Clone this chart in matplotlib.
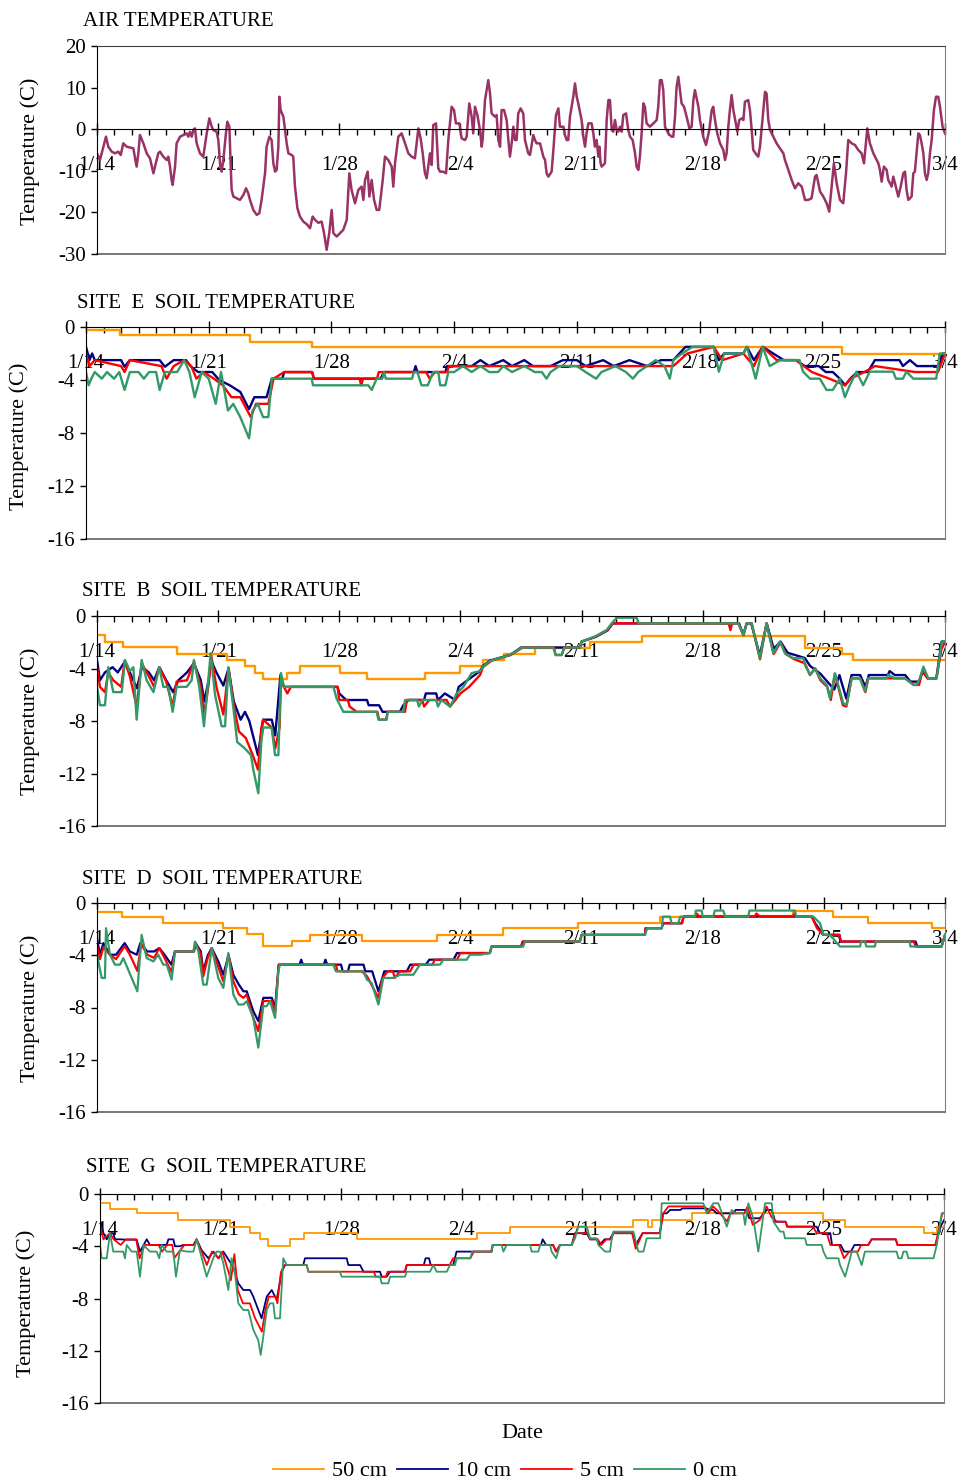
import matplotlib
matplotlib.use('Agg')
import matplotlib.pyplot as plt
from matplotlib.ticker import FixedLocator, MultipleLocator

plt.rcParams['font.family'] = ['Liberation Serif', 'DejaVu Serif']
plt.rcParams['axes.unicode_minus'] = False

# x in days since 1/14
DATE_LABELS = ['1/14', '1/21', '1/28', '2/4', '2/11', '2/18', '2/25', '3/4']
DEPTHS = ['50 cm', '10 cm', '5 cm', '0 cm']

# ---- air temperature (day, C) ----
air = [(0, -5.8), (0.17, -7.4), (0.37, -4.2), (0.52, -1.8), (0.65, -4.2), (0.85, -5.4), (1.04, -5.8),
       (1.23, -5.4), (1.37, -6.2), (1.52, -3.4), (1.71, -4.2), (2.10, -4.6), (2.20, -7.0), (2.29, -9.0),
       (2.39, -5.8), (2.48, -1.4), (2.68, -3.4), (2.87, -5.8), (3.06, -7.0), (3.26, -10.6), (3.35, -9.0),
       (3.54, -5.8), (3.64, -5.4), (3.83, -6.6), (4.03, -7.4), (4.12, -6.6), (4.22, -9.0), (4.31, -12.2),
       (4.37, -13.4), (4.51, -9.0), (4.60, -3.4), (4.80, -1.8), (4.99, -1.4), (5.18, -1.0), (5.28, -1.8),
       (5.37, -0.6), (5.47, -1.8), (5.57, -0.2), (5.66, 0.2), (5.76, -3.4), (5.95, -5.8), (6.14, -6.6),
       (6.34, -1.0), (6.49, 2.6), (6.63, 0.6), (6.72, -0.2), (6.91, -0.6), (7.01, -2.6), (7.11, -8.2),
       (7.20, -10.2), (7.30, -7.4), (7.45, -1.0), (7.53, 1.8), (7.65, 0.6), (7.72, -8.2), (7.78, -14.6),
       (7.88, -16.2), (8.07, -16.6), (8.26, -17.0), (8.46, -15.8), (8.61, -14.2), (8.74, -15.4),
       (8.84, -17.0), (9.03, -19.4), (9.23, -20.6), (9.38, -20.2), (9.51, -17.0), (9.61, -13.8),
       (9.71, -10.6), (9.80, -4.2), (9.96, -1.8), (10.09, -2.6), (10.19, -8.2), (10.29, -10.2),
       (10.38, -9.8), (10.48, -4.2), (10.54, 7.8), (10.61, 4.6), (10.77, 3.0), (10.96, -3.4),
       (11.06, -5.8), (11.25, -6.2), (11.34, -6.6), (11.44, -13.8), (11.58, -19.0), (11.73, -21.0),
       (11.92, -22.2), (12.11, -22.8), (12.31, -23.8), (12.46, -21.0), (12.60, -21.8), (12.79, -22.5),
       (12.98, -22.2), (13.12, -25.0), (13.27, -29.0), (13.42, -25.0), (13.56, -19.4), (13.66, -25.0),
       (13.85, -25.8), (14.04, -25.0), (14.23, -24.2), (14.43, -21.8), (14.58, -10.6), (14.71, -14.6),
       (14.91, -17.8), (15.10, -14.6), (15.29, -13.8), (15.39, -17.0), (15.49, -12.2), (15.64, -10.2),
       (15.74, -16.2), (15.87, -12.2), (16.01, -17.0), (16.16, -19.4), (16.31, -19.4), (16.51, -12.2),
       (16.64, -6.6), (16.83, -7.4), (17.03, -9.0), (17.12, -13.8), (17.22, -8.2), (17.41, -1.8),
       (17.60, -1.0), (17.80, -3.4), (17.99, -5.8), (18.18, -6.6), (18.37, -7.0), (18.57, 0.2),
       (18.70, -2.2), (18.82, -5.8), (18.95, -10.6), (19.05, -11.8), (19.14, -9.0), (19.24, -5.8),
       (19.34, -8.6), (19.43, 1.0), (19.59, 1.4), (19.72, -9.4), (19.82, -10.2), (20.01, -10.2),
       (20.17, -10.6), (20.30, -2.6), (20.49, 5.4), (20.63, 4.6), (20.74, 1.4), (20.94, 1.4),
       (21.07, -2.2), (21.26, -2.6), (21.36, -1.8), (21.51, 6.2), (21.65, 3.0), (21.74, -1.0),
       (21.84, 5.4), (21.98, 3.4), (22.13, -0.2), (22.23, -4.2), (22.28, -2.6), (22.42, 7.0),
       (22.61, 11.8), (22.71, 8.6), (22.80, 3.8), (23.00, 3.0), (23.09, 3.4), (23.19, -2.6),
       (23.29, -4.2), (23.38, 4.6), (23.52, 4.6), (23.67, 2.2), (23.77, -2.6), (23.86, -6.6),
       (23.96, -3.4), (24.06, 0.6), (24.15, -2.6), (24.25, -2.6), (24.34, 3.8), (24.48, 5.0),
       (24.63, 3.8), (24.73, -2.6), (24.92, -5.8), (25.02, -6.2), (25.21, -1.4), (25.31, -2.6),
       (25.40, -3.4), (25.60, -3.4), (25.79, -6.6), (25.89, -7.4), (25.98, -10.6), (26.08, -11.4),
       (26.27, -10.2), (26.37, -5.0), (26.52, 3.4), (26.66, 5.0), (26.75, 0.6), (26.95, 0.6),
       (27.04, -1.4), (27.14, -2.6), (27.23, -2.6), (27.33, 3.0), (27.52, 7.8), (27.62, 11.0),
       (27.72, 7.8), (27.81, 6.2), (28.00, 2.2), (28.10, -1.8), (28.20, -4.2), (28.29, -1.0),
       (28.39, 1.4), (28.58, 1.4), (28.68, -1.0), (28.77, -4.2), (28.87, -2.6), (28.97, -6.6),
       (29.03, -4.2), (29.10, -8.2), (29.16, -9.0), (29.35, -8.2), (29.45, 2.2), (29.55, 7.0),
       (29.64, 7.0), (29.74, -0.2), (29.83, -0.6), (29.93, 2.2), (30.03, -0.2), (30.12, -0.6),
       (30.22, 0.6), (30.32, -0.6), (30.41, 3.4), (30.57, 3.8), (30.70, -0.2), (30.80, -1.8),
       (30.95, -2.6), (31.09, -5.8), (31.18, -9.0), (31.28, -9.8), (31.37, -6.6), (31.47, -1.0),
       (31.57, 6.2), (31.66, 5.4), (31.76, 1.4), (31.95, 0.6), (32.15, 1.4), (32.34, 2.2),
       (32.43, 5.4), (32.53, 11.8), (32.63, 11.8), (32.72, 9.4), (32.82, 0.6), (33.01, -1.0),
       (33.20, -1.8), (33.30, -1.8), (33.40, 3.0), (33.49, 10.2), (33.59, 12.6), (33.78, 6.2),
       (33.92, 5.4), (34.07, 3.0), (34.23, 0.2), (34.36, 0.6), (34.46, 7.0), (34.55, 9.4),
       (34.75, 5.4), (34.84, 2.2), (35.03, -1.8), (35.19, -3.8), (35.38, -0.2), (35.52, 4.6),
       (35.61, 5.4), (35.71, 2.2), (35.84, -1.0), (36.00, -3.4), (36.19, -5.0), (36.29, -7.4),
       (36.38, -5.8), (36.48, 0.6), (36.57, 4.6), (36.67, 8.2), (36.77, 4.6), (36.86, 2.6),
       (37.00, -0.6), (37.11, 2.2), (37.25, 2.6), (37.35, 2.2), (37.44, 6.6), (37.63, 7.0),
       (37.73, 4.6), (37.83, -0.2), (37.92, -5.0), (38.12, -6.2), (38.21, -6.6), (38.31, -4.2),
       (38.50, 4.6), (38.60, 9.0), (38.69, 8.6), (38.79, 2.2), (38.89, -0.2), (39.08, -1.8),
       (39.27, -3.4), (39.46, -4.6), (39.66, -5.8), (39.75, -7.4), (39.95, -9.8), (40.14, -12.2),
       (40.33, -14.2), (40.52, -13.0), (40.72, -13.8), (40.91, -17.0), (41.10, -17.0), (41.29, -16.6),
       (41.49, -11.4), (41.58, -11.0), (41.78, -15.0), (41.97, -16.2), (42.16, -17.8), (42.31, -19.8),
       (42.45, -13.8), (42.58, -8.2), (42.74, -13.0), (42.93, -17.0), (43.12, -17.8), (43.28, -10.6),
       (43.41, -2.6), (43.61, -3.4), (43.80, -3.8), (43.99, -5.0), (44.18, -5.8), (44.32, -8.2),
       (44.51, 0.2), (44.66, -3.4), (44.86, -5.8), (45.15, -8.2), (45.24, -9.8), (45.34, -12.6),
       (45.47, -9.0), (45.63, -9.8), (45.72, -12.2), (45.92, -13.8), (46.01, -11.4), (46.11, -13.0),
       (46.30, -16.2), (46.44, -13.8), (46.59, -10.6), (46.69, -10.2), (46.78, -14.6), (46.88, -17.0),
       (47.07, -16.2), (47.17, -10.6), (47.26, -10.2), (47.46, -1.0), (47.55, -1.4), (47.65, -3.4),
       (47.75, -5.8), (47.84, -10.6), (47.94, -12.2), (48.03, -10.6), (48.13, -5.8), (48.23, -2.6),
       (48.36, 4.6), (48.48, 7.8), (48.61, 7.8), (48.71, 5.4), (48.86, 0.6), (49.00, -1.0)]

# ---- site E ----
e_50_day = [0, 1.94, 9.35, 12.87, 43.1, 49]
e_50_val = [-0.2, -0.6, -1.1, -1.5, -2.0, -2.0]
e_10 = [(0, -1.5), (0.2, -2.5), (0.35, -2.0), (0.5, -2.5), (2.0, -2.5), (2.2, -3.0), (2.5, -2.5),
        (4.2, -2.5), (4.5, -3.0), (5.0, -2.5), (5.7, -2.5), (6.0, -3.0), (6.4, -3.4), (7.2, -3.4),
        (7.6, -4.0), (8.2, -4.4), (8.8, -4.9), (9.3, -6.2), (9.6, -5.3), (10.3, -5.3), (10.6, -3.9),
        (11.2, -3.9), (11.3, -3.4), (12.9, -3.4), (13.0, -3.9), (16.8, -3.9), (17.0, -3.4), (18.7, -3.4),
        (18.8, -2.95), (18.9, -3.4), (20.5, -3.4), (20.6, -2.95), (22.0, -2.95), (22.5, -2.5),
        (23.0, -2.95), (23.8, -2.5), (24.3, -2.95), (25.0, -2.5), (25.5, -2.95), (26.5, -2.95),
        (27.2, -2.5), (28.0, -2.5), (28.5, -2.95), (29.5, -2.5), (30.1, -2.95), (31.0, -2.5),
        (32.0, -2.95), (32.8, -2.5), (33.5, -2.5), (34.2, -1.5), (35.8, -1.5), (36.1, -2.5),
        (36.4, -2.0), (37.5, -2.0), (37.7, -1.5), (38.1, -2.5), (38.6, -1.5), (39.2, -2.0),
        (39.8, -2.5), (40.5, -2.5), (41.0, -2.95), (41.8, -2.95), (42.2, -3.4), (42.6, -3.4),
        (43.0, -3.9), (43.3, -4.4), (43.6, -3.9), (44.0, -3.4), (44.6, -3.4), (45.0, -2.5),
        (46.4, -2.5), (46.6, -2.95), (47.0, -2.5), (47.4, -2.95), (48.6, -2.95), (48.9, -2.0), (49, -2.0)]
e_5 = [(0, -2.0), (0.2, -2.95), (0.5, -2.5), (2.0, -2.95), (2.2, -3.4), (2.5, -2.5), (4.3, -2.95),
       (4.6, -3.9), (5.0, -2.95), (5.6, -2.5), (6.0, -2.95), (6.3, -3.9), (6.7, -3.4), (7.3, -3.9),
       (7.8, -4.4), (8.3, -5.3), (8.8, -5.3), (9.4, -6.8), (9.7, -5.8), (10.4, -5.8), (10.7, -3.9),
       (11.3, -3.4), (12.9, -3.4), (13.0, -3.9), (15.6, -3.9), (15.7, -4.4), (15.8, -3.9), (16.6, -3.9),
       (16.7, -3.4), (19.4, -3.4), (19.6, -3.9), (19.9, -3.4), (20.6, -3.4), (20.7, -2.95), (24, -2.95),
       (26, -2.95), (30, -2.95), (33.5, -2.95), (34.3, -2.0), (35.8, -1.5), (36.3, -2.5), (37.5, -2.0),
       (38.1, -2.95), (38.6, -1.5), (39.4, -2.5), (40.5, -2.5), (41.4, -3.4), (42.4, -3.9), (43.3, -4.4),
       (43.6, -3.9), (44.4, -3.4), (45, -2.95), (47.3, -3.4), (48.6, -3.4), (49, -2.0)]
e_0 = [(0, -3.4), (0.15, -4.4), (0.3, -3.9), (0.5, -3.4), (0.9, -3.9), (1.2, -3.4), (1.6, -3.9),
       (1.9, -3.4), (2.2, -4.75), (2.5, -3.4), (3.0, -3.4), (3.3, -3.9), (3.6, -3.4), (4.0, -3.4),
       (4.2, -4.75), (4.5, -3.4), (5.2, -3.4), (5.6, -2.5), (5.9, -3.4), (6.2, -5.3), (6.6, -3.4),
       (7.0, -3.9), (7.4, -5.8), (7.7, -3.4), (8.1, -6.3), (8.4, -5.8), (8.8, -6.8), (9.3, -8.4),
       (9.5, -6.3), (9.8, -5.8), (10.1, -6.8), (10.4, -6.8), (10.6, -3.9), (12.87, -3.9), (12.95, -4.4),
       (16.1, -4.4), (16.3, -4.75), (16.58, -3.9), (16.9, -3.9), (17.0, -3.4), (17.1, -3.9), (18.6, -3.9),
       (18.7, -3.4), (18.9, -3.4), (19.14, -4.4), (19.5, -4.4), (19.8, -3.4), (20.1, -3.4), (20.2, -4.4),
       (20.5, -4.4), (20.67, -3.4), (21.0, -3.4), (21.5, -2.95), (22.0, -3.4), (22.5, -2.95), (23.0, -3.4),
       (23.5, -3.4), (23.8, -2.95), (24.3, -3.4), (25.0, -2.95), (25.6, -3.4), (26.0, -3.4), (26.27, -3.9),
       (26.5, -3.4), (27.0, -2.95), (28.0, -2.95), (28.5, -3.4), (29.1, -3.9), (29.4, -3.4), (30.2, -2.95),
       (30.8, -3.4), (31.2, -3.9), (31.5, -3.4), (32.0, -2.95), (32.5, -2.5), (33.0, -2.95), (33.3, -3.9),
       (33.5, -2.5), (34.0, -2.0), (34.6, -1.5), (35.8, -1.5), (36.1, -3.37), (36.4, -2.0), (37.5, -2.0),
       (37.7, -1.5), (38.2, -3.9), (38.6, -1.5), (39.0, -2.95), (39.6, -2.5), (40.7, -2.5), (40.9, -3.37),
       (41.3, -3.9), (41.86, -3.9), (42.24, -4.75), (42.6, -4.75), (43.0, -3.9), (43.29, -5.3),
       (43.57, -4.4), (43.95, -3.37), (44.33, -4.4), (44.71, -3.37), (46.04, -3.37), (46.2, -3.9),
       (46.6, -3.9), (46.8, -3.37), (47.19, -3.9), (48.5, -3.9), (48.7, -2.0), (49, -2.0)]

# ---- site B ----
b_50_day = [0, 0.46, 1.52, 4.6, 7.49, 8.55, 9.13, 9.61, 10.96, 11.73, 14.04, 15.58, 18.95, 21.0, 22.3,
            23.5, 25.3, 28.5, 31.47, 40.91, 43.03, 43.7, 49]
b_50_val = [-1.45, -1.95, -2.33, -2.9, -3.35, -3.8, -4.35, -4.82, -4.35, -3.8, -4.35, -4.82, -4.35,
            -3.8, -3.35, -2.9, -2.4, -1.95, -1.5, -2.4, -2.9, -3.35, -3.35]
b_10 = [(0, -3.35), (0.17, -4.9), (0.46, -4.3), (0.9, -3.9), (1.2, -4.3), (1.6, -3.5), (1.9, -4.3),
        (2.3, -5.5), (2.6, -3.9), (3.0, -4.3), (3.3, -4.9), (3.6, -3.9), (4.0, -4.9), (4.4, -5.8),
        (4.7, -4.9), (5.2, -4.3), (5.6, -3.6), (6.0, -4.9), (6.2, -6.5), (6.45, -4.9), (6.6, -3.4),
        (6.9, -4.3), (7.3, -5.3), (7.6, -4.0), (7.9, -6.5), (8.3, -7.9), (8.55, -7.3), (8.8, -8.0),
        (9.3, -10.6), (9.6, -7.9), (10.1, -7.9), (10.3, -9.1), (10.6, -4.5), (10.8, -5.4), (13.9, -5.4),
        (14.0, -5.9), (14.4, -6.4), (15.6, -6.4), (15.7, -6.8), (16.3, -6.8), (16.5, -7.3), (17.5, -7.3),
        (17.7, -6.8), (18.0, -6.4), (18.9, -6.4), (19.0, -5.9), (19.6, -5.9), (19.7, -6.4), (20.1, -5.9),
        (20.7, -6.4), (20.9, -5.4), (21.4, -4.9), (22.13, -4.2), (22.3, -3.8), (22.7, -3.4), (23.9, -2.95),
        (24.5, -2.4), (27.9, -2.4), (28.0, -1.95), (28.8, -1.6), (29.5, -1.1), (29.8, -0.56), (37.1, -0.56),
        (37.35, -1.45), (37.54, -0.56), (37.8, -0.56), (38.3, -3.0), (38.7, -0.56), (39.1, -2.5),
        (39.5, -1.95), (39.9, -2.8), (40.9, -3.2), (41.2, -3.8), (41.8, -4.4), (42.2, -5.0), (42.6, -5.6),
        (42.9, -4.5), (43.3, -6.3), (43.6, -4.5), (44.1, -4.5), (44.4, -5.4), (44.6, -4.5), (45.7, -4.5),
        (45.8, -4.2), (46.1, -4.5), (46.7, -4.5), (47.0, -5.0), (47.5, -5.0), (47.7, -4.2), (48.0, -4.75),
        (48.5, -4.75), (48.8, -1.95), (49, -1.95)]
b_5 = [(0, -3.9), (0.17, -5.4), (0.46, -5.8), (0.65, -4.3), (0.94, -4.9), (1.4, -5.4), (1.6, -3.4),
       (1.9, -4.6), (2.29, -6.9), (2.58, -3.6), (3.0, -4.6), (3.3, -5.4), (3.6, -3.9), (4.0, -5.0),
       (4.37, -6.9), (4.6, -5.0), (5.2, -4.9), (5.6, -3.5), (6.0, -5.4), (6.2, -7.5), (6.45, -5.2),
       (6.6, -3.0), (6.9, -5.4), (7.3, -7.5), (7.6, -4.0), (7.9, -6.8), (8.2, -8.8), (8.6, -9.3),
       (9.0, -10.6), (9.3, -11.7), (9.5, -8.5), (9.6, -7.9), (10.1, -8.5), (10.3, -10.1), (10.55, -8.5),
       (10.63, -4.9), (10.8, -5.4), (11.0, -5.9), (11.2, -5.4), (13.9, -5.4), (14.0, -6.4), (14.5, -6.4),
       (14.6, -6.9), (15.0, -7.3), (16.2, -7.3), (16.3, -7.9), (16.7, -7.9), (16.8, -7.3), (17.8, -7.3),
       (17.9, -6.4), (18.8, -6.4), (18.9, -6.9), (19.2, -6.4), (20.2, -6.4), (20.4, -6.9), (20.7, -6.4),
       (21.0, -5.9), (21.5, -5.4), (22.13, -4.5), (22.3, -3.9), (22.8, -3.4), (23.9, -2.97), (24.6, -2.4),
       (26.4, -2.4), (26.5, -2.97), (26.85, -2.97), (27.0, -2.4), (27.9, -2.4), (28.0, -1.95), (28.8, -1.57),
       (29.5, -1.07), (29.8, -0.56), (36.5, -0.56), (36.6, -1.07), (36.7, -0.56), (37.06, -0.56),
       (37.35, -1.45), (37.54, -0.56), (37.83, -0.56), (38.31, -3.3), (38.69, -0.56), (39.1, -2.9),
       (39.5, -2.0), (39.8, -2.9), (40.3, -3.3), (40.9, -3.6), (41.2, -4.5), (41.5, -4.0), (41.8, -4.9),
       (42.2, -5.4), (42.4, -6.4), (42.64, -4.4), (43.1, -6.8), (43.3, -6.9), (43.6, -4.75), (44.1, -4.75),
       (44.4, -5.8), (44.57, -4.75), (46.7, -4.75), (47.2, -5.25), (47.5, -5.25), (47.7, -4.2),
       (48.0, -4.75), (48.5, -4.75), (48.8, -2.5), (49, -2.0)]
b_0 = [(0, -5.4), (0.17, -6.8), (0.46, -6.8), (0.65, -3.9), (0.94, -5.8), (1.43, -5.8), (1.62, -3.35),
       (1.9, -4.2), (2.1, -3.9), (2.29, -7.9), (2.58, -3.35), (2.87, -4.9), (3.26, -5.8), (3.6, -3.9),
       (3.83, -5.4), (4.12, -5.4), (4.37, -7.3), (4.6, -5.4), (5.18, -5.4), (5.47, -4.9), (5.6, -3.35),
       (5.91, -5.4), (6.18, -8.4), (6.38, -5.6), (6.57, -2.84), (6.82, -6.0), (7.2, -8.4), (7.4, -8.4),
       (7.59, -3.9), (7.88, -7.0), (8.1, -9.6), (8.55, -10.1), (8.9, -10.6), (9.03, -11.7), (9.32, -13.5),
       (9.5, -9.5), (9.61, -8.5), (10.09, -8.5), (10.29, -10.6), (10.48, -10.6), (10.63, -4.35),
       (10.8, -5.4), (13.66, -5.4), (13.85, -6.3), (14.23, -7.3), (16.16, -7.3), (16.26, -7.9),
       (16.74, -7.9), (16.8, -7.3), (17.7, -7.3), (17.8, -6.4), (18.5, -6.4), (18.6, -6.9), (18.8, -6.4),
       (19.6, -6.4), (19.7, -6.9), (19.9, -6.4), (20.4, -6.9), (20.6, -6.4), (20.78, -5.9), (21.17, -5.4),
       (21.65, -4.35), (22.13, -4.2), (22.3, -3.86), (22.71, -3.43), (23.86, -2.97), (24.54, -2.41),
       (26.37, -2.41), (26.5, -2.97), (26.85, -2.97), (27.0, -2.41), (27.91, -2.41), (28.0, -1.95),
       (28.77, -1.57), (29.45, -1.07), (29.74, -0.56), (30.03, -0.13), (31.18, -0.13), (31.3, -0.56),
       (37.06, -0.56), (37.35, -1.45), (37.54, -0.56), (37.83, -0.56), (38.31, -3.22), (38.69, -0.56),
       (39.08, -2.84), (39.46, -1.95), (39.75, -2.84), (40.24, -3.22), (40.81, -3.22), (40.91, -3.73),
       (41.2, -4.49), (41.49, -3.98), (41.78, -4.75), (42.16, -5.25), (42.35, -6.27), (42.64, -4.37),
       (43.12, -6.65), (43.32, -6.78), (43.61, -4.75), (44.09, -4.75), (44.38, -5.76), (44.57, -4.75),
       (45.63, -4.75), (45.72, -4.49), (46.11, -4.75), (46.69, -4.75), (47.17, -5.25), (47.36, -5.25),
       (47.55, -4.75), (47.75, -3.86), (48.03, -4.75), (48.52, -4.75), (48.81, -1.95), (49, -1.95)]

# ---- site D ----
d_50_day = [0, 1.43, 3.83, 7.3, 8.65, 9.61, 11.25, 12.31, 15.29, 19.63, 23.48, 27.81, 32.53, 34.07,
            40.24, 42.55, 44.57, 48.23, 49]
d_50_val = [-0.66, -1.04, -1.5, -1.93, -2.39, -3.33, -2.9, -2.44, -2.9, -2.44, -1.93, -1.5, -1.04,
            -1.0, -0.58, -1.04, -1.5, -1.93, -1.93]
d_10 = [(0, -2.69), (0.17, -3.96), (0.37, -3.07), (0.75, -3.96), (1.1, -3.96), (1.6, -3.07), (1.9, -3.71),
        (2.3, -3.96), (2.5, -3.07), (2.9, -3.71), (3.3, -3.71), (3.6, -3.45), (3.9, -3.96), (4.3, -4.72),
        (4.5, -3.71), (5.6, -3.71), (5.7, -3.07), (6.0, -3.71), (6.14, -5.23), (6.4, -4.0), (6.63, -3.45),
        (7.01, -4.47), (7.3, -5.49), (7.6, -4.0), (7.88, -5.5), (8.2, -6.25), (8.46, -6.76), (8.65, -6.76),
        (9.03, -8.28), (9.32, -9.04), (9.61, -7.26), (10.1, -7.26), (10.29, -8.03), (10.5, -4.72),
        (11.7, -4.72), (11.8, -4.34), (11.9, -4.72), (13.1, -4.72), (13.2, -4.34), (13.3, -4.72),
        (14.1, -4.72), (14.2, -5.23), (14.5, -5.23), (14.6, -4.72), (15.4, -4.72), (15.5, -5.23),
        (15.9, -5.23), (16.26, -6.76), (16.6, -5.23), (17.9, -5.23), (18.1, -4.72), (19.0, -4.72),
        (19.2, -4.34), (20.6, -4.34), (20.8, -3.83), (22.7, -3.83), (22.8, -3.33), (24.5, -3.33),
        (24.6, -2.95), (27.9, -2.95), (28.0, -2.44), (31.66, -2.44), (31.7, -1.93), (32.63, -1.93),
        (32.7, -1.55), (33.8, -1.55), (33.9, -1.04), (41.3, -1.04), (41.5, -1.55), (41.97, -2.44),
        (42.9, -2.44), (42.95, -2.95), (47.3, -2.95), (47.4, -3.33), (48.8, -3.33), (49, -2.44)]
d_5 = [(0, -3.2), (0.17, -4.3), (0.37, -3.4), (0.75, -3.96), (1.1, -4.3), (1.6, -3.3), (1.9, -3.96),
       (2.33, -5.2), (2.55, -3.1), (2.9, -3.96), (3.3, -4.2), (3.6, -3.45), (3.9, -4.2), (4.31, -5.3),
       (4.5, -3.71), (5.6, -3.71), (5.7, -3.07), (6.0, -3.96), (6.14, -5.6), (6.4, -4.2), (6.63, -3.45),
       (7.01, -4.9), (7.3, -6.0), (7.6, -3.96), (7.88, -6.0), (8.2, -7.0), (8.46, -7.26), (8.65, -7.0),
       (9.03, -8.8), (9.32, -9.8), (9.61, -7.5), (10.1, -7.5), (10.29, -8.4), (10.5, -4.72), (13.8, -4.72),
       (13.9, -5.23), (15.3, -5.23), (15.6, -5.6), (16.26, -7.26), (16.5, -5.74), (16.8, -5.23),
       (17.1, -5.23), (17.2, -5.74), (17.5, -5.23), (18.1, -5.23), (18.3, -4.72), (19.4, -4.72),
       (19.5, -4.34), (20.8, -4.34), (21.0, -3.83), (22.7, -3.83), (22.8, -3.33), (24.5, -3.33),
       (24.65, -2.95), (27.9, -2.95), (28.0, -2.44), (31.66, -2.44), (31.7, -1.93), (32.63, -1.93),
       (32.7, -1.55), (33.8, -1.55), (33.9, -1.04), (34.6, -1.04), (34.65, -0.8), (34.8, -1.04),
       (38.0, -1.04), (38.1, -0.8), (38.3, -1.04), (40.2, -1.04), (40.3, -0.8), (40.4, -1.04),
       (41.3, -1.04), (41.6, -1.93), (41.97, -2.44), (42.9, -2.44), (43.0, -2.95), (47.2, -2.95),
       (47.3, -3.33), (48.8, -3.33), (49, -2.44)]
d_0 = [(0, -3.96), (0.27, -5.74), (0.46, -5.74), (0.52, -1.93), (0.75, -3.96), (1.04, -4.72), (1.33, -4.72),
       (1.52, -4.22), (2.33, -6.76), (2.58, -2.44), (2.87, -4.22), (3.26, -4.47), (3.54, -3.96),
       (3.83, -4.72), (4.03, -4.72), (4.31, -5.87), (4.51, -3.71), (5.57, -3.71), (5.66, -2.95),
       (5.86, -3.71), (6.14, -6.25), (6.34, -6.25), (6.63, -3.45), (7.01, -5.74), (7.3, -6.5),
       (7.59, -3.83), (7.88, -7.01), (8.17, -7.77), (8.46, -7.77), (8.65, -7.52), (9.03, -8.79),
       (9.32, -11.07), (9.61, -7.9), (9.8, -7.9), (10.0, -7.52), (10.29, -8.79), (10.48, -5.23),
       (10.57, -4.72), (13.66, -4.72), (13.8, -5.23), (15.39, -5.23), (15.6, -5.87), (15.87, -6.12),
       (16.26, -7.77), (16.54, -5.74), (17.12, -5.74), (17.51, -5.49), (18.28, -5.49), (18.66, -4.72),
       (19.82, -4.72), (20.01, -4.34), (21.36, -4.34), (21.55, -3.96), (22.13, -3.96), (22.71, -3.83),
       (22.8, -3.33), (24.63, -3.33), (24.73, -2.95), (27.91, -2.95), (28.0, -2.44), (31.66, -2.44),
       (31.8, -1.93), (32.63, -1.93), (32.7, -1.04), (33.11, -1.04), (33.2, -1.55), (33.59, -1.55),
       (33.7, -1.04), (34.55, -1.04), (34.6, -0.58), (34.94, -0.58), (35.0, -1.04), (35.61, -1.04),
       (35.7, -0.58), (36.19, -0.58), (36.3, -1.04), (37.63, -1.04), (37.7, -0.58), (40.33, -0.58),
       (40.4, -1.04), (41.39, -1.04), (41.78, -1.55), (41.97, -2.44), (42.35, -2.44), (42.93, -3.33),
       (44.09, -3.33), (44.15, -2.95), (44.38, -2.95), (44.45, -3.33), (44.95, -3.33), (45.0, -2.95),
       (46.97, -2.95), (47.0, -3.33), (48.81, -3.33), (49, -2.44)]

# ---- site G ----
g_50_day = [0, 0.58, 2.13, 4.55, 7.55, 8.71, 9.29, 9.77, 11.03, 11.84, 14.9, 21.9, 23.8, 30.97,
            31.84, 32.03, 34.35, 42.0, 43.26, 47.81, 48.58, 49]
g_50_val = [-0.71, -1.17, -1.48, -1.99, -2.5, -2.96, -3.47, -3.96, -3.47, -2.96, -3.47, -2.96, -2.5,
            -1.99, -2.5, -1.99, -1.48, -1.99, -2.5, -2.96, -2.5, -2.5]
g_10 = [(0, -2.0), (0.2, -3.0), (0.39, -3.47), (0.58, -3.0), (0.77, -3.0), (0.87, -3.47), (1.16, -3.47),
        (1.55, -3.5), (2.13, -3.5), (2.32, -4.41), (2.71, -3.47), (2.9, -3.9), (3.87, -3.9), (3.97, -3.47),
        (4.26, -3.47), (4.35, -4.0), (4.64, -4.0), (4.84, -3.9), (5.42, -3.9), (5.61, -3.47), (5.9, -4.3),
        (6.29, -4.92), (6.58, -4.41), (6.87, -4.92), (7.16, -4.41), (7.55, -5.2), (7.74, -5.6),
        (8.03, -6.84), (8.32, -7.35), (8.71, -7.35), (8.9, -7.86), (9.38, -9.52), (9.68, -7.86),
        (9.97, -7.35), (10.26, -8.1), (10.55, -5.95), (10.74, -5.44), (11.8, -5.44), (11.9, -4.92),
        (14.32, -4.92), (14.42, -5.44), (15.1, -5.44), (15.3, -5.95), (16.26, -5.95), (16.35, -6.33),
        (16.64, -6.33), (16.84, -5.95), (17.71, -5.95), (17.81, -5.44), (18.8, -5.44), (18.9, -4.92),
        (19.1, -4.92), (19.2, -5.44), (20.5, -5.44), (20.7, -4.41), (22.74, -4.41), (22.8, -3.9),
        (25.6, -3.9), (25.7, -3.47), (25.9, -3.9), (26.3, -3.9), (26.48, -4.41), (26.71, -3.9),
        (27.39, -3.9), (27.58, -3.0), (28.26, -3.0), (28.45, -3.47), (28.84, -3.47), (29.0, -3.9),
        (29.3, -3.47), (29.6, -3.47), (29.8, -3.0), (30.9, -3.0), (31.1, -3.9), (31.5, -3.0), (32.5, -3.0),
        (32.7, -1.48), (32.9, -1.48), (33.1, -1.22), (33.7, -1.22), (33.8, -1.1), (35.2, -1.1),
        (35.4, -1.22), (35.6, -1.22), (35.8, -1.48), (36.8, -1.48), (36.9, -1.22), (37.5, -1.22),
        (37.7, -1.86), (38.3, -1.86), (38.7, -1.22), (39.0, -1.22), (39.2, -2.12), (39.8, -2.12),
        (39.9, -2.5), (41.6, -2.5), (41.8, -3.0), (42.4, -3.0), (42.5, -3.9), (43.0, -3.9), (43.2, -4.41),
        (43.6, -4.41), (43.8, -3.9), (44.6, -3.9), (44.8, -3.47), (46.2, -3.47), (46.3, -3.9),
        (48.5, -3.9), (48.8, -2.5), (49, -2.0)]
g_5 = [(0, -2.4), (0.2, -3.47), (0.58, -3.0), (0.8, -3.47), (1.2, -3.9), (1.5, -3.47), (2.1, -3.47),
       (2.3, -4.92), (2.6, -3.9), (3.4, -3.9), (3.6, -4.41), (3.9, -3.9), (4.2, -3.9), (4.3, -4.92),
       (4.6, -4.41), (4.9, -3.9), (5.5, -3.9), (5.6, -3.47), (5.9, -4.41), (6.2, -5.44), (6.5, -4.41),
       (6.9, -4.92), (7.1, -4.41), (7.4, -5.7), (7.6, -6.6), (7.8, -4.6), (8.0, -7.35), (8.3, -8.37),
       (8.7, -8.37), (9.0, -9.5), (9.4, -10.54), (9.6, -8.9), (9.8, -7.86), (10.2, -7.86), (10.3, -8.37),
       (10.5, -6.0), (10.7, -5.44), (12.0, -5.44), (12.1, -5.95), (15.9, -5.95), (16.0, -6.33),
       (16.6, -6.33), (16.7, -5.95), (17.7, -5.95), (17.8, -5.44), (20.3, -5.44), (20.5, -4.92),
       (21.5, -4.92), (21.7, -4.41), (22.7, -4.41), (22.8, -3.9), (26.3, -3.9), (26.48, -4.41),
       (26.7, -3.9), (27.4, -3.9), (27.6, -3.0), (28.3, -3.0), (28.45, -3.47), (28.9, -3.47),
       (29.1, -3.9), (29.4, -3.47), (29.7, -3.47), (29.8, -3.0), (30.9, -3.0), (31.1, -4.2), (31.5, -3.0),
       (32.5, -3.0), (32.7, -1.48), (33.0, -0.95), (35.1, -0.95), (35.3, -1.48), (35.6, -0.95),
       (36.0, -1.48), (36.4, -2.1), (36.6, -1.48), (37.4, -1.48), (37.6, -0.95), (37.9, -2.37),
       (38.3, -2.0), (38.7, -0.95), (39.0, -1.8), (39.3, -2.12), (39.8, -2.12), (39.9, -2.5),
       (41.4, -2.5), (41.6, -3.0), (42.2, -3.0), (42.4, -3.9), (42.9, -3.9), (43.2, -4.92), (43.5, -4.41),
       (44.0, -4.41), (44.2, -3.9), (44.6, -3.9), (44.8, -3.47), (46.2, -3.47), (46.3, -3.9),
       (48.5, -3.9), (48.9, -1.48), (49, -1.48)]
g_0 = [(0, -3.9), (0.1, -4.92), (0.39, -4.92), (0.58, -3.0), (0.77, -4.41), (1.35, -4.41), (1.45, -4.92),
       (1.55, -3.9), (1.84, -4.41), (2.13, -4.41), (2.32, -6.33), (2.52, -3.9), (2.9, -4.41), (3.29, -4.41),
       (3.44, -4.92), (3.58, -3.9), (3.87, -4.41), (4.26, -4.41), (4.41, -6.33), (4.64, -4.3),
       (5.03, -4.41), (5.42, -4.41), (5.61, -3.47), (5.81, -4.41), (6.19, -6.33), (6.58, -4.92),
       (6.77, -4.41), (6.97, -4.41), (7.16, -5.3), (7.45, -7.35), (7.64, -4.92), (7.84, -6.1),
       (8.03, -8.37), (8.32, -8.88), (8.61, -8.88), (8.9, -10.4), (9.19, -11.2), (9.33, -12.32),
       (9.48, -10.9), (9.68, -8.88), (9.87, -8.37), (10.06, -8.37), (10.16, -9.52), (10.45, -9.52),
       (10.64, -4.92), (10.84, -5.44), (12.0, -5.44), (12.1, -5.95), (13.93, -5.95), (14.03, -6.33),
       (16.26, -6.33), (16.35, -6.84), (16.74, -6.84), (16.84, -6.33), (17.71, -6.33), (17.81, -5.95),
       (19.16, -5.95), (19.35, -5.44), (19.55, -5.95), (20.13, -5.95), (20.32, -5.44), (20.61, -5.44),
       (20.71, -4.92), (21.5, -4.92), (21.6, -4.41), (22.74, -4.41), (22.8, -3.9), (23.32, -3.9),
       (23.42, -4.41), (23.61, -3.9), (24.97, -3.9), (25.06, -4.41), (25.45, -4.41), (25.55, -3.9),
       (26.13, -3.9), (26.22, -4.41), (26.48, -4.92), (26.71, -3.9), (27.39, -3.9), (27.58, -3.39),
       (27.77, -2.5), (28.26, -2.5), (28.45, -3.39), (28.84, -3.39), (28.93, -3.9), (29.32, -4.41),
       (29.61, -4.41), (29.71, -3.39), (29.8, -2.88), (30.97, -2.88), (31.06, -3.39), (31.26, -4.41),
       (31.55, -4.41), (31.74, -3.39), (32.52, -3.39), (32.61, -0.71), (35.03, -0.71), (35.22, -1.48),
       (35.61, -0.71), (35.9, -0.71), (36.39, -2.5), (36.68, -1.22), (36.87, -1.48), (37.35, -1.48),
       (37.45, -2.37), (37.64, -0.71), (37.93, -1.86), (38.22, -4.41), (38.61, -0.71), (39.0, -0.71),
       (39.1, -2.12), (39.29, -2.5), (39.48, -2.88), (39.68, -2.88), (39.77, -3.39), (40.93, -3.39),
       (41.03, -3.9), (41.9, -3.9), (42.0, -4.41), (42.19, -4.92), (42.87, -4.92), (42.96, -5.44),
       (43.26, -6.33), (43.55, -4.92), (43.64, -4.41), (43.93, -4.41), (44.22, -5.44), (44.41, -4.41),
       (46.25, -4.41), (46.35, -4.92), (46.54, -4.92), (46.64, -4.41), (46.83, -4.41), (46.93, -4.92),
       (48.39, -4.92), (48.58, -3.9), (48.87, -1.48), (49, -1.48)]

COLORS = {'50 cm': '#FF9900', '10 cm': '#000080', '5 cm': '#FF0000', '0 cm': '#339966'}
AIR_COLOR = '#993366'

W, H = 963, 1481


def px_axes(fig, left, top, right, bottom):
    return fig.add_axes([left / W, 1 - bottom / H, (right - left) / W, (bottom - top) / H])


def style_axes(ax, ylim, yticks):
    ax.set_xlim(0, 49)
    ax.set_ylim(*ylim)
    ax.set_yticks(yticks)
    ax.set_yticklabels([str(t) for t in yticks])
    ax.xaxis.set_major_locator(FixedLocator(range(0, 50, 7)))
    ax.xaxis.set_minor_locator(MultipleLocator(1))
    ax.set_xticklabels(DATE_LABELS)
    # category axis crosses at 0
    ax.spines['bottom'].set_position(('data', 0))
    ax.spines['bottom'].set_color('black')
    ax.spines['left'].set_color('black')
    ax.spines['top'].set_color('#404040')
    ax.spines['right'].set_color('#808080')
    ax.axhline(ylim[0], color='#606060', lw=1.2, clip_on=False, zorder=0)
    ax.tick_params(axis='x', which='major', direction='inout', length=9, width=1,
                   labelsize=15, pad=15)
    ax.tick_params(axis='x', which='minor', direction='out', length=4, width=1)
    ax.tick_params(axis='y', which='major', direction='out', length=4, width=1,
                   labelsize=15, pad=4)


def plot_soil(ax, d50, v50, series, lw):
    ax.plot(d50, v50, drawstyle='steps-post', color=COLORS['50 cm'], lw=lw)
    for name, pts in zip(DEPTHS[1:], series):
        days = [p[0] for p in pts]
        vals = [p[1] for p in pts]
        ax.plot(days, vals, color=COLORS[name], lw=lw)


fig = plt.figure(figsize=(W / 100, H / 100), dpi=100)

# air panel
ax = px_axes(fig, 97, 46, 945, 254)
ax.plot([p[0] for p in air], [p[1] for p in air], color=AIR_COLOR, lw=1.8)
style_axes(ax, (-30, 20), [20, 10, 0, -10, -20, -30])
fig.text(83 / W, 1 - 22 / H, 'AIR TEMPERATURE', fontsize=15, ha='left', va='center')
fig.text(30 / W, 1 - 151 / H, 'Temperature (C)', fontsize=16, rotation=90, ha='center', va='center')

soil_panels = [
    ('SITE  E  SOIL TEMPERATURE', (86, 327, 945, 539), (77, 303), (19, 436),
     e_50_day, e_50_val, [e_10, e_5, e_0], 1.7),
    ('SITE  B  SOIL TEMPERATURE', (97, 616, 945, 826), (82, 591), (30, 721),
     b_50_day, b_50_val, [b_10, b_5, b_0], 1.7),
    ('SITE  D  SOIL TEMPERATURE', (97, 903, 945, 1112), (82, 880), (30, 1008),
     d_50_day, d_50_val, [d_10, d_5, d_0], 1.6),
    ('SITE  G  SOIL TEMPERATURE', (100, 1194, 944, 1403), (86, 1168), (26, 1303),
     g_50_day, g_50_val, [g_10, g_5, g_0], 1.3),
]

for title, box, tpos, lpos, d50, v50, series, lw in soil_panels:
    ax = px_axes(fig, *box)
    plot_soil(ax, d50, v50, series, lw)
    style_axes(ax, (-16, 0), [0, -4, -8, -12, -16])
    ax.spines['top'].set_visible(False)
    fig.text(tpos[0] / W, 1 - tpos[1] / H, title, fontsize=15, ha='left', va='center')
    fig.text(lpos[0] / W, 1 - lpos[1] / H, 'Temperature (C)', fontsize=16, rotation=90,
             ha='center', va='center')

fig.text(522 / W, 1 - 1434 / H, 'Date', fontsize=16, ha='center', va='center')

handles = [plt.Line2D([], [], color=COLORS[n], lw=1.3) for n in DEPTHS]
fig.legend(handles, DEPTHS, loc='center', bbox_to_anchor=(505 / W, 1 - 1471 / H), ncol=4,
           frameon=False, fontsize=16, handlelength=2.3, handletextpad=0.35, columnspacing=0.45,
           borderpad=0, borderaxespad=0)

fig.savefig('out.png', dpi=100)
